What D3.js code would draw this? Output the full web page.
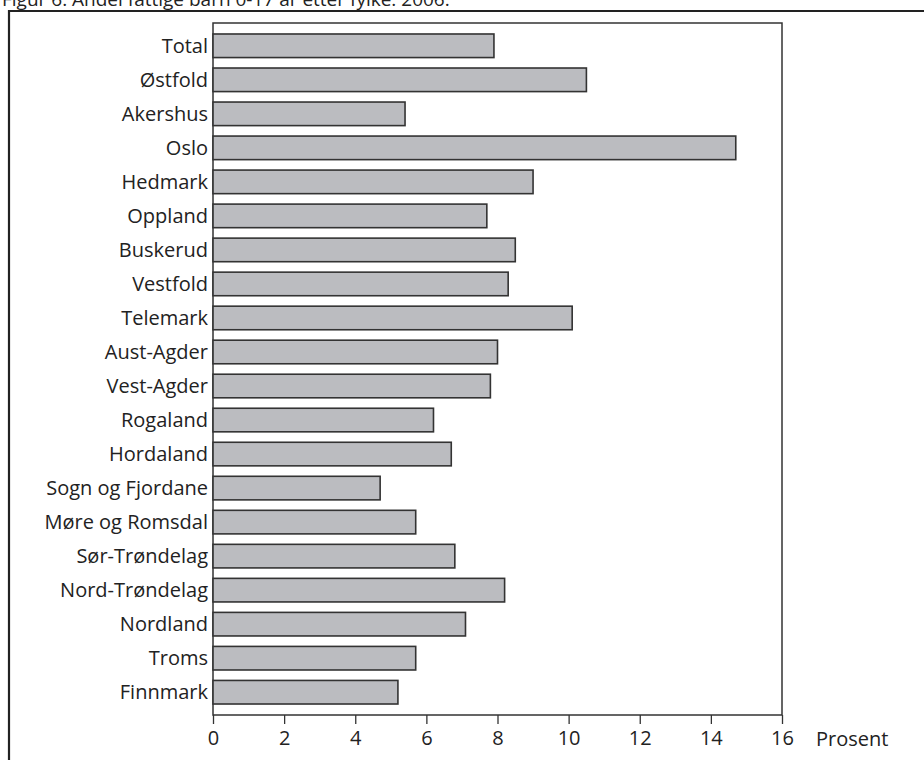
<!DOCTYPE html>
<html><head><meta charset="utf-8">
<script src="https://cdn.jsdelivr.net/npm/d3@7"></script>
<style>body{margin:0;background:#fff}svg{display:block}</style>
</head><body>
<script>
const categories = ["Total","Østfold","Akershus","Oslo","Hedmark","Oppland","Buskerud","Vestfold","Telemark","Aust-Agder","Vest-Agder","Rogaland","Hordaland","Sogn og Fjordane","Møre og Romsdal","Sør-Trøndelag","Nord-Trøndelag","Nordland","Troms","Finnmark"];
const values = [7.9,10.5,5.4,14.7,9.0,7.7,8.5,8.3,10.1,8.0,7.8,6.2,6.7,4.7,5.7,6.8,8.2,7.1,5.7,5.2];
const xTicks = [0,2,4,6,8,10,12,14,16];
const title = "Figur 6. Andel fattige barn 0-17 år etter fylke. 2006.";
const unitLabel = "Prosent";

(function(){
const W = 924, H = 760;
const svg = d3.select("body").append("svg").attr("width", W).attr("height", H);
const font = "'Open Sans', 'Noto Sans', sans-serif";

svg.append("text").attr("x", 2).attr("y", 6).attr("font-family", font).attr("font-size", 19)
  .attr("fill", "#222").text(title);

// outer frame
svg.append("path").attr("d", `M9,${H+5} V11 H${W+5}`).attr("fill","none").attr("stroke","#222").attr("stroke-width",2.2);

const pl = 213, pr = 782, pt = 23, pb = 715;
const x = d3.scaleLinear().domain([0,16]).range([pl,pr]);
const y = d3.scaleBand().domain(categories).range([pt,pb]).paddingInner(0.307).paddingOuter(0.323);

// plot frame
svg.append("rect").attr("x", pl).attr("y", pt).attr("width", pr-pl).attr("height", pb-pt)
  .attr("fill","none").attr("stroke","#333").attr("stroke-width",1.5);

svg.append("g").selectAll("rect").data(categories).join("rect")
  .attr("x", x(0)).attr("y", d => y(d)).attr("width", (d,i) => x(values[i]) - x(0)).attr("height", y.bandwidth())
  .attr("fill","#bbbcc0").attr("stroke","#333").attr("stroke-width",1.6);

// y labels
svg.append("g").selectAll("text").data(categories).join("text")
  .attr("x", pl-5).attr("y", d => y(d)+y.bandwidth()/2).attr("dy","0.36em")
  .attr("text-anchor","end").attr("font-family",font).attr("font-size",20).attr("fill","#222").text(d=>d);

// x axis
const xAxis = d3.axisBottom(x).tickValues(xTicks).tickSize(9).tickPadding(7).tickFormat(d3.format("d"));
const gx = svg.append("g").attr("transform",`translate(0,${pb})`).call(xAxis);
gx.select(".domain").remove();
gx.selectAll(".tick line").attr("stroke","#333").attr("stroke-width",1.3);
gx.selectAll(".tick text").attr("font-family",font).attr("font-size",20).attr("fill","#222");

svg.append("text").attr("x", 816).attr("y", 746).attr("font-family",font).attr("font-size",20).attr("fill","#222").text(unitLabel);
})();
</script>
</body></html>
